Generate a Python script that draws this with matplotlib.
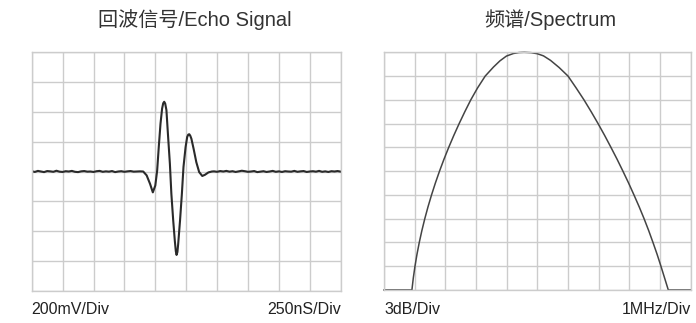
import numpy as np
import matplotlib
matplotlib.use("Agg")
import matplotlib.pyplot as plt

plt.rcParams['font.family'] = ['Liberation Sans', 'Noto Sans CJK SC', 'DejaVu Sans']

# ---------------- Echo signal data (ns, mV) ----------------
pre_noise_mV = [2, -3, 4, 0, -4, 3, 1, -2, 5, -1, -3, 2, 0, 4, -2, -4, 1, 3,
                -1, 0, -3, 2, 4, -2, 1, -1, 3, -4, 0, 2, -2, 1, 3, -1, 0, 1]
pulse_t_ns = [902, 930, 958, 980, 1000, 1015, 1028, 1042, 1055, 1064, 1072, 1080,
              1090, 1102, 1118, 1130, 1145, 1158, 1166, 1172, 1179, 1185, 1200,
              1215, 1228, 1245, 1258, 1267, 1275, 1283, 1292, 1310, 1332, 1355,
              1380, 1402, 1430, 1458]
pulse_v_mV = [0, -26, -84, -140, -94, 6, 164, 320, 422, 458, 468, 456,
              412, 254, 52, -150, -330, -466, -535, -560, -540, -488, -330,
              -150, 30, 164, 232, 248, 250, 240, 220, 152, 62, -4,
              -30, -22, -6, 0]
post_noise_mV = [1, -2, 3, 0, 4, -1, 2, -3, 1, 5, 2, -2, 0, 3, -4, -1, 2, -3,
                 0, 4, -2, 1, -3, 2, 0, -1, 4, -2, 1, 3, -3, 0, 2, -1, 4, -2,
                 1, -3, 2, 0, 3, -1]

# ---------------- Spectrum data (MHz, divisions from bottom) ----------------
spec_f_MHz = [0.0, 0.91, 0.955, 1.01, 1.075, 1.15, 1.235, 1.33, 1.435, 1.55,
              1.675, 1.81, 1.955, 2.11, 2.275, 2.45, 2.635, 2.83, 3.05, 3.30,
              3.57, 3.78, 3.99, 4.22, 4.40, 4.57, 4.80, 5.00, 5.20, 5.43, 5.71,
              6.00, 6.265, 6.52, 6.755, 6.98, 7.195, 7.40, 7.60, 7.79, 7.975,
              8.15, 8.32, 8.48, 8.63, 8.77, 8.905, 9.03, 9.15, 9.27, 10.0]
spec_div = [0, 0, 0.5, 1, 1.5, 2, 2.5, 3, 3.5, 4,
            4.5, 5, 5.5, 6, 6.5, 7, 7.5, 8, 8.5, 9,
            9.38, 9.64, 9.84, 9.95, 9.99, 10, 9.985, 9.94, 9.85, 9.66, 9.36,
            9.0, 8.5, 8, 7.5, 7, 6.5, 6, 5.5, 5, 4.5,
            4, 3.5, 3, 2.5, 2, 1.5, 1, 0.5, 0, 0]
spec_dB = [(d - 10) * 3 for d in spec_div]

titles = ["回波信号/Echo Signal", "频谱/Spectrum"]
scale_labels = [("200mV/Div", "250nS/Div"), ("3dB/Div", "1MHz/Div")]

W, H = 696, 323
fig = plt.figure(figsize=(W / 100, H / 100), dpi=100)

grid_c = '#cccccc'

def px_axes(x0, y0, x1, y1):
    return fig.add_axes([x0 / W, 1 - y1 / H, (x1 - x0) / W, (y1 - y0) / H])

def style(ax, xlim, ylim, xstep, ystep):
    ax.set_xlim(*xlim)
    ax.set_ylim(*ylim)
    ax.set_xticks(np.arange(xlim[0], xlim[1] + xstep / 2, xstep))
    ax.set_yticks(np.arange(ylim[0], ylim[1] + ystep / 2, ystep))
    ax.tick_params(length=0, labelbottom=False, labelleft=False)
    ax.grid(True, color=grid_c, linewidth=1.0)
    ax.set_axisbelow(True)
    for s in ax.spines.values():
        s.set_color(grid_c)
        s.set_linewidth(1.0)

# Left: echo
ax1 = px_axes(31.7, 52.3, 340.7, 290.7)
style(ax1, (0, 2500), (-800, 800), 250, 200)
t_pre = np.linspace(0, 875, len(pre_noise_mV))
t_post = np.linspace(1475, 2500, len(post_noise_mV))
t_all = np.concatenate([t_pre, pulse_t_ns, t_post])
v_all = np.concatenate([pre_noise_mV, pulse_v_mV, post_noise_mV])
ax1.plot(t_all, v_all, color='#2a2a2a', linewidth=1.5, solid_joinstyle='round')

# Right: spectrum
ax2 = px_axes(384, 52.3, 690.7, 290)
style(ax2, (0, 10), (-30, 0), 1, 3)
ax2.plot(spec_f_MHz, spec_dB, color='#444444', linewidth=1.1, clip_on=False,
         solid_joinstyle='round')

# Titles
fig.text(195 / W, 1 - 20 / H, titles[0], ha='center', va='center',
         fontsize=14.5, color='#333333')
fig.text(550 / W, 1 - 20 / H, titles[1], ha='center', va='center',
         fontsize=14.5, color='#333333')

# Scale labels
ly = 1 - 309.5 / H
fig.text(31.7 / W, ly, scale_labels[0][0], ha='left', va='center', fontsize=11.5, color='#222222')
fig.text(340.7 / W, ly, scale_labels[0][1], ha='right', va='center', fontsize=11.5, color='#222222')
fig.text(384 / W, ly, scale_labels[1][0], ha='left', va='center', fontsize=11.5, color='#222222')
fig.text(690.7 / W, ly, scale_labels[1][1], ha='right', va='center', fontsize=11.5, color='#222222')

fig.savefig('out.png', dpi=100)
